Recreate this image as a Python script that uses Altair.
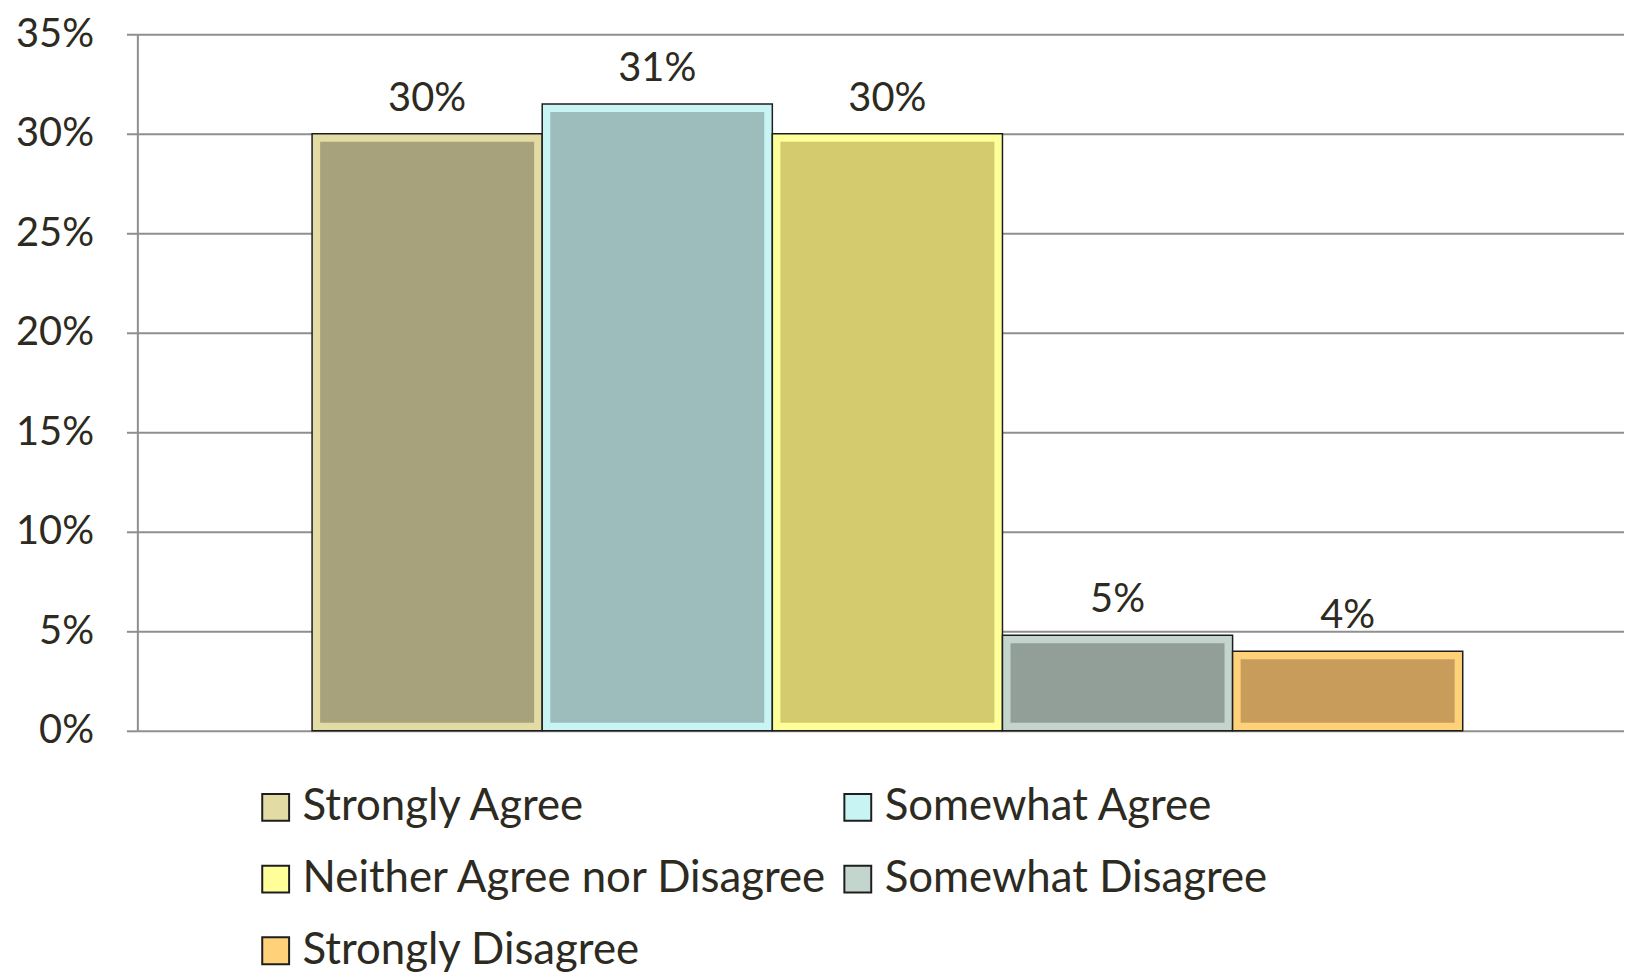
import altair as alt
import pandas as pd

categories = ["Strongly Agree", "Somewhat Agree", "Neither Agree nor Disagree",
              "Somewhat Disagree", "Strongly Disagree"]
values = [0.300, 0.3149, 0.300, 0.048, 0.040]
fill_colors = ["#a7a27b", "#9dbdbd", "#d3cb6e", "#929f98", "#c89d5c"]
bevel_colors = ["#e2dca4", "#c9f4f4", "#ffff99", "#c3d5cd", "#ffd27a"]
y_ticks = [0, 0.05, 0.10, 0.15, 0.20, 0.25, 0.30, 0.35]

# legend is filled column by column; this order gives the reference's row-wise reading
legend_idx = [0, 2, 4, 1, 3]
legend_domain = [categories[i] for i in legend_idx]
legend_range = [bevel_colors[i] for i in legend_idx]

df = pd.DataFrame({"category": categories, "value": values,
                   "fill": fill_colors, "bevel": bevel_colors})

FONT = "Lato"
TEXT = "#2d2a22"
GRID = "#8f8f8f"

x_enc = alt.X("category:N", sort=categories,
              scale=alt.Scale(paddingInner=0, paddingOuter=0.73, align=0.52), axis=None)
y_scale = alt.Scale(domain=[0, 0.35], nice=False)

outer = alt.Chart(df).mark_bar(stroke="#1e1e1e", strokeWidth=1.5).encode(
    x=x_enc,
    y=alt.Y("value:Q", scale=y_scale,
            axis=alt.Axis(values=y_ticks, format=".0%", title=None,
                          labelFont=FONT, labelFontSize=40, labelColor=TEXT,
                          labelPadding=33, tickSize=11, tickColor=GRID, tickWidth=2,
                          domainColor=GRID, domainWidth=2,
                          grid=True, gridColor=GRID, gridWidth=2)),
    color=alt.Color("category:N",
                    scale=alt.Scale(domain=legend_domain, range=legend_range),
                    legend=alt.Legend(title=None, orient="none", legendX=117, legendY=755,
                                      columns=2, symbolType="square", symbolSize=729,
                                      symbolStrokeColor="#1e1e1e", symbolStrokeWidth=2,
                                      labelFont=FONT, labelFontSize=44, labelColor=TEXT,
                                      labelOffset=5, columnPadding=7, rowPadding=28,
                                      labelLimit=800)),
)

inner = alt.Chart(df).mark_bar(width={"band": 0.93}, yOffset=8, y2Offset=-8).encode(
    x=x_enc,
    y=alt.Y("value:Q", scale=y_scale),
    y2=alt.datum(0),
    color=alt.Color("fill:N", scale=None, legend=None),
)

labels = alt.Chart(df).mark_text(font=FONT, fontSize=40, color=TEXT,
                                 baseline="alphabetic", dy=-23).encode(
    x=x_enc,
    y=alt.Y("value:Q", scale=y_scale),
    text=alt.Text("value:Q", format=".0%"),
)

chart = alt.layer(outer, inner, labels).properties(
    width=1494, height=700,
    autosize=alt.AutoSizeParams(type="none"),
    padding={"left": 130, "top": 24, "right": 0, "bottom": 240},
    background="white",
).configure_view(stroke=None)

chart.save("out.html", embed_options={"renderer": "svg", "actions": False})
